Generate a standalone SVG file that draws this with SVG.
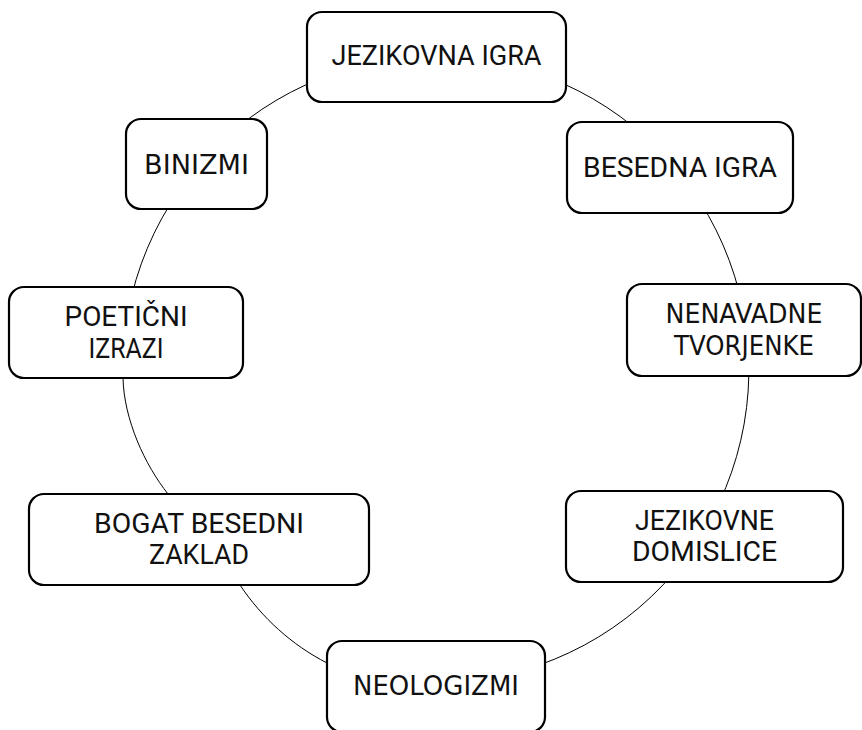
<svg xmlns="http://www.w3.org/2000/svg" width="862" height="730" viewBox="0 0 862 730">
<style>
.box{fill:#fff;stroke:#000;stroke-width:2.2}
.t{font-family:Roboto,"Liberation Sans",sans-serif;font-size:27px;fill:#111;text-anchor:middle}
.d{font-family:"DejaVu Sans",Verdana,sans-serif;font-size:26px;fill:#111;text-anchor:middle}
.ring{fill:none;stroke:#000;stroke-width:1}
</style>
<rect width="862" height="730" fill="#fff"/>
<g id="connectors">
<path class="ring" d="M327,663 A313,313 0 1 0 123,378 C124,420 145,465 168,494 L240,585 C262,618 292,645 327,663"/>
</g>
<g id="n1"><rect class="box" x="307" y="12" width="259" height="90" rx="15"/><text class="t" x="436.5" y="65" textLength="210" lengthAdjust="spacingAndGlyphs">JEZIKOVNA IGRA</text></g>
<g id="n2"><rect class="box" x="567" y="122" width="226" height="91" rx="15"/><text class="t" x="680" y="177" textLength="194" lengthAdjust="spacingAndGlyphs">BESEDNA IGRA</text></g>
<g id="n3"><rect class="box" x="627" y="284" width="234" height="92" rx="15"/><text class="d" x="744" y="323" textLength="157" lengthAdjust="spacingAndGlyphs">NENAVADNE</text><text class="d" x="744" y="355" textLength="140" lengthAdjust="spacingAndGlyphs">TVORJENKE</text></g>
<g id="n4"><rect class="box" x="566" y="491" width="277" height="91" rx="15"/><text class="t" x="704.5" y="530" textLength="139" lengthAdjust="spacingAndGlyphs">JEZIKOVNE</text><text class="t" x="704.5" y="561" textLength="145" lengthAdjust="spacingAndGlyphs">DOMISLICE</text></g>
<g id="n5"><rect class="box" x="327" y="641" width="218" height="91" rx="15"/><text class="d" x="436" y="695" textLength="166" lengthAdjust="spacingAndGlyphs">NEOLOGIZMI</text></g>
<g id="n6"><rect class="box" x="29" y="494" width="340" height="91" rx="15"/><text class="t" x="199" y="533" textLength="210" lengthAdjust="spacingAndGlyphs">BOGAT BESEDNI</text><text class="t" x="199" y="564" textLength="100" lengthAdjust="spacingAndGlyphs">ZAKLAD</text></g>
<g id="n7"><rect class="box" x="9" y="287" width="234" height="91" rx="15"/><text class="t" x="126" y="326" textLength="123" lengthAdjust="spacingAndGlyphs">POETIČNI</text><text class="t" x="126" y="358" textLength="75" lengthAdjust="spacingAndGlyphs">IZRAZI</text></g>
<g id="n8"><rect class="box" x="126" y="119" width="141" height="90" rx="15"/><text class="d" x="196.5" y="174" textLength="105" lengthAdjust="spacingAndGlyphs">BINIZMI</text></g>
</svg>
